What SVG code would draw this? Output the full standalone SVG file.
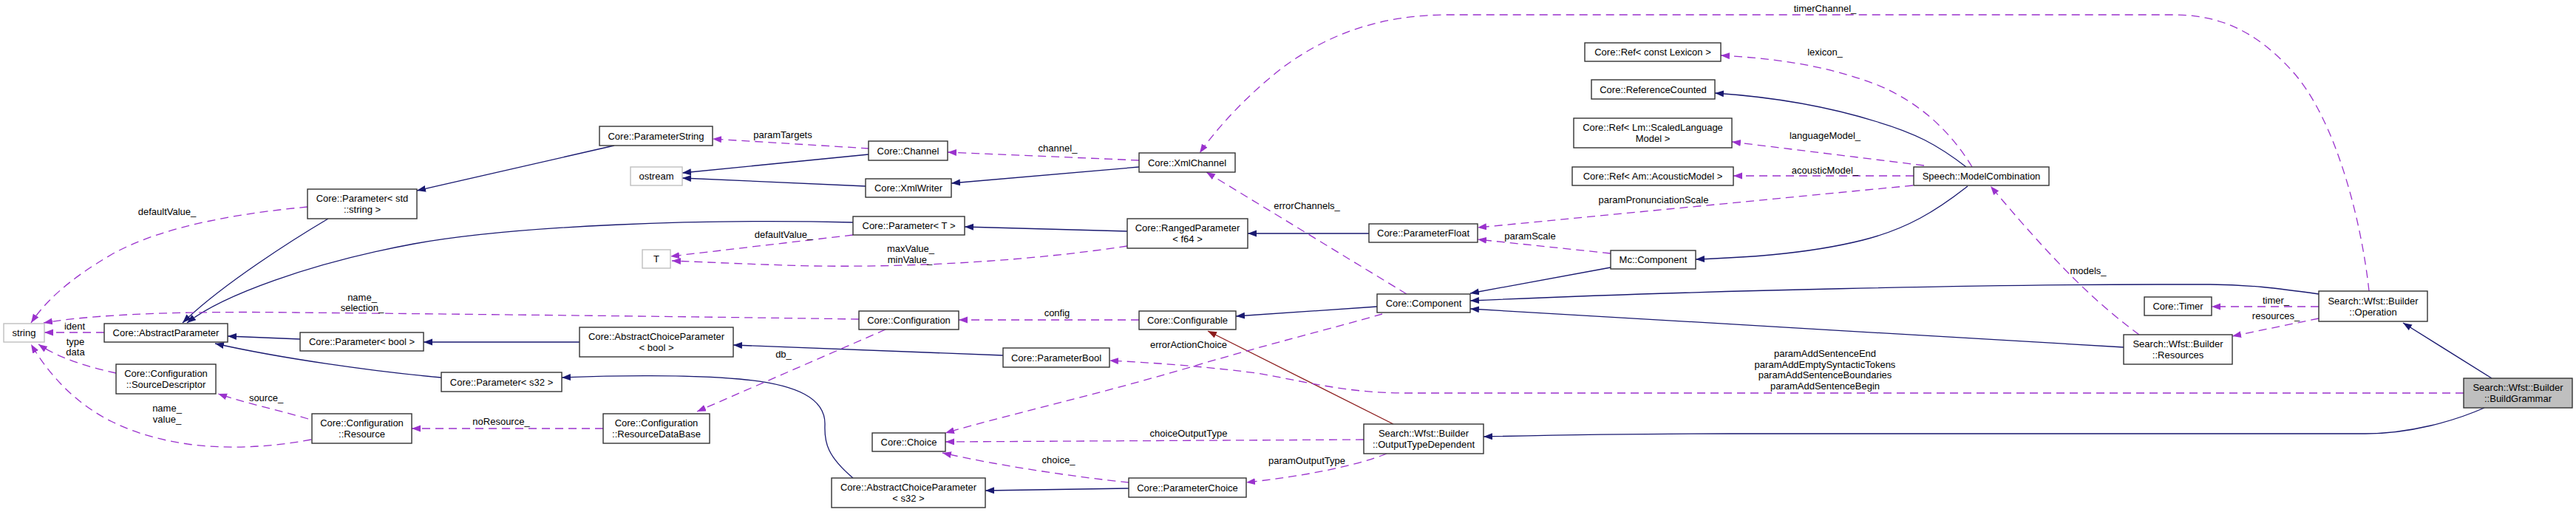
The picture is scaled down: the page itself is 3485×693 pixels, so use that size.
<svg xmlns="http://www.w3.org/2000/svg" width="3485" height="693" viewBox="0 0 3485 693">
<defs>
<style>
.n rect{fill:#fff;stroke:#333;stroke-width:1.4}
.n.g rect{stroke:#bfbfbf}
.n.sel rect{fill:#bfbfbf}
text{font-family:"Liberation Sans",Arial,Helvetica,sans-serif;font-size:13px;fill:#000;text-anchor:middle}
.i{fill:none;stroke:#191970;stroke-width:1.3}
.r{fill:none;stroke:#8b1a1a;stroke-width:1.3}
.u{fill:none;stroke:#9a32cd;stroke-width:1.3;stroke-dasharray:11,7}
</style>
<marker id="ai" markerUnits="userSpaceOnUse" markerWidth="13" markerHeight="10" refX="12" refY="4.5" orient="auto"><path d="M0,0 L12,4.5 L0,9 z" fill="#191970"/></marker>
<marker id="ar" markerUnits="userSpaceOnUse" markerWidth="13" markerHeight="10" refX="12" refY="4.5" orient="auto"><path d="M0,0 L12,4.5 L0,9 z" fill="#8b1a1a"/></marker>
<marker id="au" markerUnits="userSpaceOnUse" markerWidth="13" markerHeight="10" refX="12" refY="4.5" orient="auto"><path d="M0,0 L12,4.5 L0,9 z" fill="#9a32cd"/></marker>
</defs>
<rect width="3485" height="693" fill="#fff"/>
<g id="edges">
<g marker-end="url(#ai)">
<path class="i" d="M444,296 C400,322 300,385 247,437"/>
<path class="i" d="M1154,301 C950,296 700,305 560,330 C420,356 300,400 253,437"/>
<path class="i" d="M831,197 L564,258"/>
<path class="i" d="M406,459 L308,455"/>
<path class="i" d="M597,511 C500,502 380,485 291,465"/>
<path class="i" d="M784,463 L573,463"/>
<path class="i" d="M1357,481 L992,467"/>
<path class="i" d="M1154,647 C1120,618 1115,600 1116,575 C1117,540 1080,520 1000,513 C930,507 830,508 760,511"/>
<path class="i" d="M1527,661 L1333,664"/>
<path class="i" d="M1541,226 L1287,248"/>
<path class="i" d="M1175,209 L923,234"/>
<path class="i" d="M1171,252 L923,241"/>
<path class="i" d="M1525,313 L1305,307"/>
<path class="i" d="M1852,316 L1688,316"/>
<path class="i" d="M1863,415 L1672,428"/>
<path class="i" d="M2179,362 L1989,397"/>
<path class="i" d="M3137,398 C3080,390 3040,385 2990,385 L2920,385 C2700,385 2300,393 1989,407"/>
<path class="i" d="M2873,470 C2500,450 2200,432 1989,418"/>
<path class="i" d="M3361,552 C3320,570 3260,587 3200,587 L2340,587 C2200,587 2100,589 2007,591"/>
<path class="i" d="M3371,512 L3251,437"/>
<path class="i" d="M2662,252 C2620,285 2580,310 2520,325 C2440,345 2350,349 2294,351"/>
<path class="i" d="M2660,226 C2620,195 2590,180 2540,165 C2460,140 2380,130 2320,126"/>
</g>
<path class="r" marker-end="url(#ar)" d="M1885,574 L1634,448"/>
<g marker-end="url(#au)">
<path class="u" d="M141,450 L60,450"/>
<path class="u" d="M157,505 C120,497 80,485 52,466"/>
<path class="u" d="M421,595 C330,612 230,610 150,570 C100,545 65,505 42,466"/>
<path class="u" d="M417,567 C380,556 330,545 295,533"/>
<path class="u" d="M1162,432 C900,428 600,425 400,423 C250,421 130,425 59,437"/>
<path class="u" d="M416,280 C330,288 220,305 150,345 C90,380 60,410 42,437"/>
<path class="u" d="M1176,201 L964,188"/>
<path class="u" d="M1541,217 L1282,206"/>
<path class="u" d="M1154,318 L907,347"/>
<path class="u" d="M1525,333 C1400,352 1250,362 1100,360 C1020,358 960,355 909,353"/>
<path class="u" d="M1541,433 L1297,433"/>
<path class="u" d="M1198,446 L943,557"/>
<path class="u" d="M816,580 L557,580"/>
<path class="u" d="M1903,398 L1632,233"/>
<path class="u" d="M3205,394 C3195,300 3160,160 3100,95 C3050,40 3000,20 2940,20 L1960,20 C1870,20 1800,45 1740,88 C1690,125 1645,175 1623,207"/>
<path class="u" d="M2668,226 C2640,180 2600,140 2540,115 C2470,88 2400,79 2328,75"/>
<path class="u" d="M2603,224 L2343,192"/>
<path class="u" d="M2589,238 L2345,238"/>
<path class="u" d="M2588,251 L1999,308"/>
<path class="u" d="M2179,343 L1999,324"/>
<path class="u" d="M2894,453 C2850,420 2800,380 2693,252"/>
<path class="u" d="M3137,415 L2992,415"/>
<path class="u" d="M3137,431 L3020,455"/>
<path class="u" d="M3333,532 L1900,532 C1820,532 1760,515 1700,505 C1620,495 1560,491 1501,488"/>
<path class="u" d="M1870,425 C1800,445 1700,470 1600,500 C1480,535 1350,565 1279,586"/>
<path class="u" d="M1845,595 L1279,598"/>
<path class="u" d="M1527,653 C1450,645 1350,630 1275,613"/>
<path class="u" d="M1876,614 C1830,632 1760,645 1686,653"/>
</g>
<text x="101" y="446">ident</text>
<text x="102" y="467">type</text>
<text x="102" y="481">data</text>
<text x="226" y="557">name_</text>
<text x="226" y="572">value_</text>
<text x="360" y="543">source_</text>
<text x="490" y="407">name_</text>
<text x="490" y="421">selection_</text>
<text x="226" y="291">defaultValue_</text>
<text x="1059" y="187">paramTargets</text>
<text x="1431" y="205">channel_</text>
<text x="1060" y="322">defaultValue_</text>
<text x="1232" y="341">maxValue_</text>
<text x="1231" y="356">minValue_</text>
<text x="1430" y="428">config</text>
<text x="1060" y="484">db_</text>
<text x="678" y="575">noResource_</text>
<text x="1768" y="283">errorChannels_</text>
<text x="2469" y="16">timerChannel_</text>
<text x="2469" y="75">lexicon_</text>
<text x="2469" y="188">languageModel_</text>
<text x="2469" y="235">acousticModel_</text>
<text x="2237" y="275">paramPronunciationScale</text>
<text x="2070" y="324">paramScale</text>
<text x="2825" y="371">models_</text>
<text x="3079" y="411">timer_</text>
<text x="3079" y="432">resources_</text>
<text x="2469" y="483">paramAddSentenceEnd</text>
<text x="2469" y="498">paramAddEmptySyntacticTokens</text>
<text x="2469" y="512">paramAddSentenceBoundaries</text>
<text x="2469" y="527">paramAddSentenceBegin</text>
<text x="1608" y="471">errorActionChoice</text>
<text x="1608" y="591">choiceOutputType</text>
<text x="1432" y="627">choice_</text>
<text x="1768" y="628">paramOutputType</text>
</g>
<g id="n_string" class="n g"><rect x="5" y="438" width="55" height="25"/><text x="32.5" y="455">string</text></g>
<g id="n_abstractparameter" class="n"><rect x="141" y="438" width="167" height="25"/><text x="224.5" y="455">Core::AbstractParameter</text></g>
<g id="n_param_stdstring" class="n"><rect x="416" y="256" width="148" height="40"/><text x="490" y="273">Core::Parameter&lt; std</text><text x="490" y="288">::string &gt;</text></g>
<g id="n_param_bool" class="n"><rect x="406" y="450" width="167" height="25"/><text x="489.5" y="467">Core::Parameter&lt; bool &gt;</text></g>
<g id="n_sourcedescriptor" class="n"><rect x="157" y="493" width="135" height="40"/><text x="224.5" y="510">Core::Configuration</text><text x="224.5" y="525">::SourceDescriptor</text></g>
<g id="n_resource" class="n"><rect x="422" y="560" width="135" height="40"/><text x="489.5" y="577">Core::Configuration</text><text x="489.5" y="592">::Resource</text></g>
<g id="n_parameterstring" class="n"><rect x="811" y="171" width="153" height="26"/><text x="887.5" y="188.5">Core::ParameterString</text></g>
<g id="n_ostream" class="n g"><rect x="853" y="226" width="70" height="25"/><text x="888" y="243">ostream</text></g>
<g id="n_T" class="n g"><rect x="869" y="338" width="38" height="25"/><text x="888" y="355">T</text></g>
<g id="n_acp_bool" class="n"><rect x="784" y="443" width="208" height="40"/><text x="888" y="460">Core::AbstractChoiceParameter</text><text x="888" y="475">&lt; bool &gt;</text></g>
<g id="n_param_s32" class="n"><rect x="597" y="504" width="163" height="26"/><text x="678.5" y="521.5">Core::Parameter&lt; s32 &gt;</text></g>
<g id="n_resourcedatabase" class="n"><rect x="816" y="560" width="144" height="40"/><text x="888" y="577">Core::Configuration</text><text x="888" y="592">::ResourceDataBase</text></g>
<g id="n_channel" class="n"><rect x="1175" y="191" width="107" height="26"/><text x="1228.5" y="208.5">Core::Channel</text></g>
<g id="n_xmlwriter" class="n"><rect x="1171" y="242" width="116" height="25"/><text x="1229" y="259">Core::XmlWriter</text></g>
<g id="n_param_T" class="n"><rect x="1154" y="293" width="151" height="25"/><text x="1229.5" y="310">Core::Parameter&lt; T &gt;</text></g>
<g id="n_configuration" class="n"><rect x="1162" y="421" width="135" height="25"/><text x="1229.5" y="438">Core::Configuration</text></g>
<g id="n_choice" class="n"><rect x="1180" y="586" width="99" height="25"/><text x="1229.5" y="603">Core::Choice</text></g>
<g id="n_acp_s32" class="n"><rect x="1125" y="647" width="208" height="40"/><text x="1229" y="664">Core::AbstractChoiceParameter</text><text x="1229" y="679">&lt; s32 &gt;</text></g>
<g id="n_parameterbool" class="n"><rect x="1357" y="471" width="144" height="26"/><text x="1429" y="488.5">Core::ParameterBool</text></g>
<g id="n_xmlchannel" class="n"><rect x="1541" y="207" width="130" height="26"/><text x="1606" y="224.5">Core::XmlChannel</text></g>
<g id="n_rangedparameter" class="n"><rect x="1525" y="296" width="163" height="40"/><text x="1606.5" y="313">Core::RangedParameter</text><text x="1606.5" y="328">&lt; f64 &gt;</text></g>
<g id="n_configurable" class="n"><rect x="1541" y="421" width="131" height="25"/><text x="1606.5" y="438">Core::Configurable</text></g>
<g id="n_parameterchoice" class="n"><rect x="1527" y="647" width="159" height="26"/><text x="1606.5" y="664.5">Core::ParameterChoice</text></g>
<g id="n_parameterfloat" class="n"><rect x="1852" y="303" width="147" height="25"/><text x="1925.5" y="320">Core::ParameterFloat</text></g>
<g id="n_corecomponent" class="n"><rect x="1863" y="398" width="126" height="25"/><text x="1926" y="415">Core::Component</text></g>
<g id="n_outputtypedependent" class="n"><rect x="1845" y="574" width="162" height="40"/><text x="1926" y="591">Search::Wfst::Builder</text><text x="1926" y="606">::OutputTypeDependent</text></g>
<g id="n_mccomponent" class="n"><rect x="2179" y="339" width="115" height="25"/><text x="2236.5" y="356">Mc::Component</text></g>
<g id="n_reflexicon" class="n"><rect x="2144" y="58" width="184" height="25"/><text x="2236" y="75">Core::Ref&lt; const Lexicon &gt;</text></g>
<g id="n_referencecounted" class="n"><rect x="2153" y="108" width="167" height="26"/><text x="2236.5" y="125.5">Core::ReferenceCounted</text></g>
<g id="n_refscaledlm" class="n"><rect x="2129" y="160" width="214" height="40"/><text x="2236" y="177">Core::Ref&lt; Lm::ScaledLanguage</text><text x="2236" y="192">Model &gt;</text></g>
<g id="n_refacoustic" class="n"><rect x="2127" y="226" width="218" height="25"/><text x="2236" y="243">Core::Ref&lt; Am::AcousticModel &gt;</text></g>
<g id="n_modelcombination" class="n"><rect x="2589" y="226" width="183" height="25"/><text x="2680.5" y="243">Speech::ModelCombination</text></g>
<g id="n_timer" class="n"><rect x="2901" y="402" width="91" height="25"/><text x="2946.5" y="419">Core::Timer</text></g>
<g id="n_resources" class="n"><rect x="2873" y="453" width="147" height="40"/><text x="2946.5" y="470">Search::Wfst::Builder</text><text x="2946.5" y="485">::Resources</text></g>
<g id="n_operation" class="n"><rect x="3137" y="394" width="147" height="41"/><text x="3210.5" y="411.5">Search::Wfst::Builder</text><text x="3210.5" y="426.5">::Operation</text></g>
<g id="n_buildgrammar" class="n sel"><rect x="3333" y="512" width="147" height="40"/><text x="3406.5" y="529">Search::Wfst::Builder</text><text x="3406.5" y="544">::BuildGrammar</text></g>
</svg>
